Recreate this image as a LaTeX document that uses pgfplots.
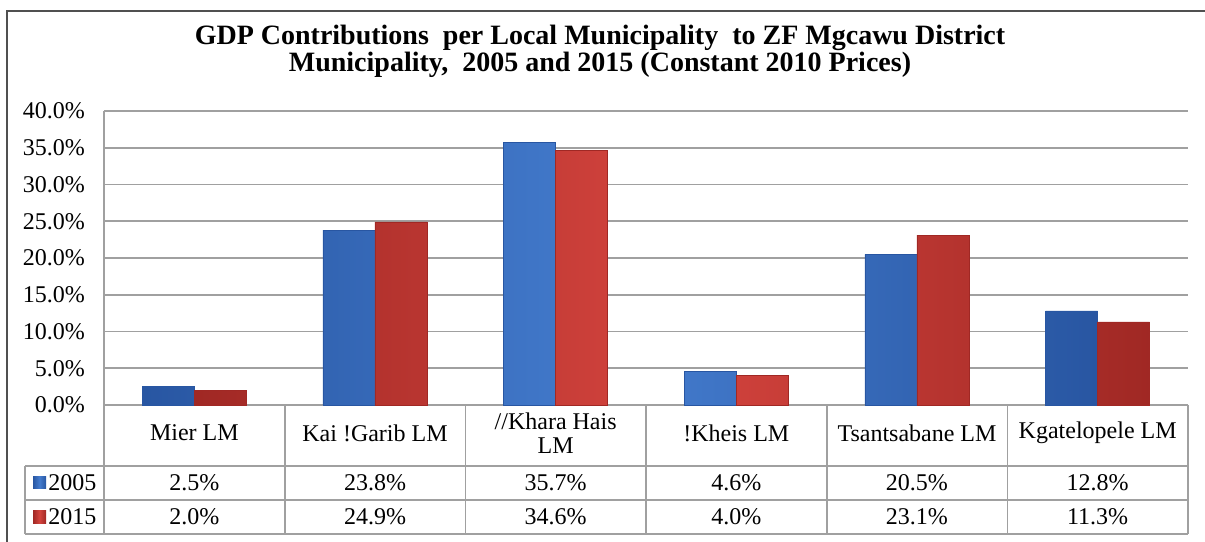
\documentclass[border=0pt]{standalone}
\usepackage{pgfplots}
\pgfplotsset{compat=1.18}
\usepackage{fontspec}
\setmainfont{Liberation Serif}

\definecolor{barblue}{RGB}{68,124,206}
\definecolor{barblueD}{RGB}{40,86,162}
\definecolor{barred}{RGB}{212,68,62}
\definecolor{barredD}{RGB}{160,40,36}
\definecolor{gridgray}{RGB}{160,160,160}
\definecolor{framegray}{RGB}{80,80,80}

\begin{document}
\begin{tikzpicture}[x=0.5pt,y=0.5pt]
\useasboundingbox (0,0) rectangle (1205,541);
% outer chart frame (right and bottom edges fall outside the picture)
\draw[framegray, line width=1.1pt] (7,-10) -- (7,530) -- (1215,530);

\node[font=\bfseries\fontsize{14}{13.5}\selectfont, align=center] at (600,490)
  {GDP Contributions\ \ per Local Municipality\ \ to ZF Mgcawu District\\
   Municipality,\ \ 2005 and 2015 (Constant 2010 Prices)};

\begin{axis}[
    at={(97.165pt,68pt)}, anchor=origin,
    scale only axis, width=542pt, height=147pt,
    xmin=-0.5, xmax=5.5, ymin=0, ymax=40,
    axis x line*=bottom, axis y line*=left,
    axis line style={gridgray, line width=0.8pt},
    ymajorgrids, grid style={gridgray, line width=0.8pt},
    major tick length=0pt,
    ytick={0,5,...,40},
    yticklabel={\pgfmathprintnumber[fixed,fixed zerofill,precision=1]{\tick}\%},
    yticklabel style={xshift=-6pt, font=\fontsize{12}{12}\selectfont},
    xtick={0,...,5},
    xticklabels={Mier LM, Kai !Garib LM, {//Khara Hais\\LM}, !Kheis LM, Tsantsabane LM, Kgatelopele LM},
    xticklabel style={anchor=center, yshift=-14pt, align=center, font=\fontsize{12}{12}\selectfont},
    /pgf/number format/assume math mode=true,
    clip=false,
]
    % 2005
    \addplot[ybar, bar width=0.288, bar shift=-0.144, draw=barblueD, line width=0.3pt,
        left color=barblueD, right color=barblueD, middle color=barblue]
        coordinates {(0,2.5) (1,23.8) (2,35.7) (3,4.6) (4,20.5) (5,12.8)};
    % 2015
    \addplot[ybar, bar width=0.288, bar shift=0.144, draw=barredD, line width=0.3pt,
        left color=barredD, right color=barredD, middle color=barred]
        coordinates {(0,2.0) (1,24.9) (2,34.6) (3,4.0) (4,23.1) (5,11.3)};

    % data table rows
    \addplot[draw=none, point meta=explicit,
        nodes near coords={\pgfmathprintnumber[fixed,fixed zerofill,precision=1]{\pgfplotspointmeta}\%},
        every node near coord/.style={anchor=center, font=\fontsize{12}{12}\selectfont}]
        coordinates {(0,-10.6)[2.5] (1,-10.6)[23.8] (2,-10.6)[35.7] (3,-10.6)[4.6] (4,-10.6)[20.5] (5,-10.6)[12.8]};
    \addplot[draw=none, point meta=explicit,
        nodes near coords={\pgfmathprintnumber[fixed,fixed zerofill,precision=1]{\pgfplotspointmeta}\%},
        every node near coord/.style={anchor=center, font=\fontsize{12}{12}\selectfont}]
        coordinates {(0,-15.2)[2.0] (1,-15.2)[24.9] (2,-15.2)[34.6] (3,-15.2)[4.0] (4,-15.2)[23.1] (5,-15.2)[11.3]};
\end{axis}

% table grid
\draw[gridgray, line width=0.8pt] (25,75) -- (1188,75) (25,41) -- (1188,41) (25,7) -- (1188,7) (25,75) -- (25,7);
\foreach \x in {104,284.7,465.3,646,826.7,1007.3,1188}
    \draw[gridgray, line width=0.8pt] (\x,136) -- (\x,7);

% legend keys
\fill[left color=barblueD, right color=barblueD, middle color=barblue] (33,52) rectangle (46,64);
\fill[left color=barredD, right color=barredD, middle color=barred] (33,18) rectangle (46,30);
\node[anchor=west, inner sep=0pt, font=\fontsize{12}{12}\selectfont] at (48,58) {2005};
\node[anchor=west, inner sep=0pt, font=\fontsize{12}{12}\selectfont] at (48,24) {2015};
\end{tikzpicture}
\end{document}
